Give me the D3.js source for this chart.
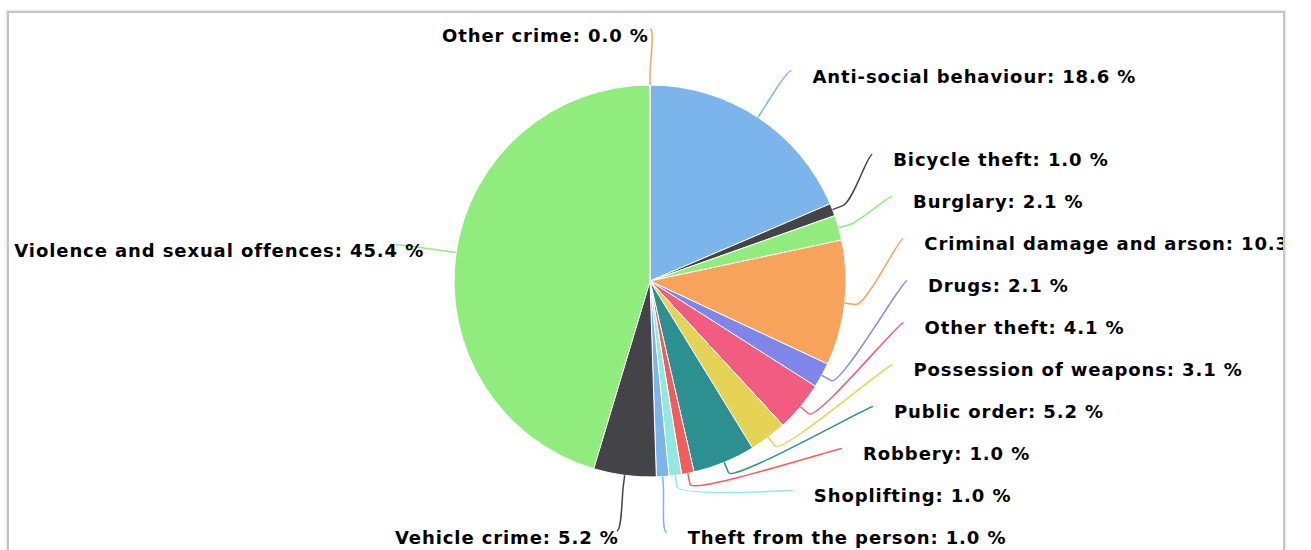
<!DOCTYPE html>
<html>
<head>
<meta charset="utf-8">
<script src="https://cdn.jsdelivr.net/npm/d3@7"></script>
<style>
  body { margin: 0; background: #fff; }
  #frame {
    position: absolute; left: 7px; top: 11px; width: 1274px; height: 620px;
    border: 2px solid #c4c4c4; box-shadow: 0 0 2px 1px #e2e2e2;
    overflow: hidden; background: #fff;
  }
  #chart { position: absolute; left: -9px; top: -13px; }
  .lbl { font-family: "DejaVu Sans", sans-serif; font-weight: bold; font-size: 18px; fill: #000; letter-spacing: 0.9px; }
</style>
</head>
<body>
<div id="frame"><svg id="chart" width="1311" height="620"></svg></div>
<script>
// crime counts per category (shown as share of total)
const categories = [
  'Anti-social behaviour', 'Bicycle theft', 'Burglary', 'Criminal damage and arson',
  'Drugs', 'Other theft', 'Possession of weapons', 'Public order', 'Robbery',
  'Shoplifting', 'Theft from the person', 'Vehicle crime',
  'Violence and sexual offences', 'Other crime'
];
const counts = [18, 1, 2, 10, 2, 4, 3, 5, 1, 1, 1, 5, 44, 0];
const colors = [
  '#7cb5ec', '#434348', '#90ed7d', '#f7a35c', '#8085e9', '#f15c80', '#e4d354',
  '#2b908f', '#f45b5b', '#91e8e1', '#7cb5ec', '#434348', '#90ed7d', '#f7a35c'
];

const svg = d3.select('#chart');
const cx = 650;
const cy = 281;
const radius = 196;
const labelRX = 257; // where connectors end
const labelRY = 252;
const breakOffset = 11;
const gap = 42;

const total = d3.sum(counts);
const data = categories.map((name, i) => ({ name, count: counts[i], color: colors[i] }));

const pie = d3.pie().sort(null).value(d => d.count);
const arcs = pie(data);
const arc = d3.arc().innerRadius(0).outerRadius(radius);

const onCircle = (a, rr) => [cx + rr * Math.sin(a), cy - rr * Math.cos(a)];

arcs.forEach((d) => {
  d.mid = (d.startAngle + d.endAngle) / 2;
  d.right = d.mid < Math.PI;
  d.ny = cy - labelRY * Math.cos(d.mid);
  d.text = `${d.data.name}: ${(d.data.count / total * 100).toFixed(1)} %`;
});

function distribute(items, top, bottom) {
  items.sort((a, b) => a.ny - b.ny);
  items.forEach((d) => { d.y = Math.max(top, Math.min(bottom, d.ny)); });
  for (let i = items.length - 2; i >= 0; i--) items[i].y = Math.min(items[i].y, items[i + 1].y - gap);
  for (let i = 1; i < items.length; i++) items[i].y = Math.max(items[i].y, items[i - 1].y + gap);
}
distribute(arcs.filter(d => d.right), 20, 545);
distribute(arcs.filter(d => !d.right), 20, 545);

arcs.forEach((d) => {
  const t = Math.max(-1, Math.min(1, (d.y - cy) / labelRY));
  d.x = cx + (d.right ? 1 : -1) * labelRX * Math.sqrt(1 - t * t);
});

const g = svg.append('g');

g.selectAll('path.slice')
  .data(arcs)
  .enter().append('path')
  .attr('class', 'slice')
  .attr('transform', `translate(${cx},${cy})`)
  .attr('d', arc)
  .attr('fill', d => d.data.color)
  .attr('stroke', '#fff')
  .attr('stroke-width', 1);

g.selectAll('path.conn')
  .data(arcs)
  .enter().append('path')
  .attr('class', 'conn')
  .attr('fill', 'none')
  .attr('stroke', d => d.data.color)
  .attr('stroke-width', 1.5)
  .attr('d', (d) => {
    const [ex, ey] = onCircle(d.mid, radius);
    const [bx, by] = onCircle(d.mid, radius + breakOffset);
    const s = d.right ? 1 : -1;
    return `M${d.x},${d.y}C${d.x - 5 * s},${d.y} ${2 * bx - ex},${2 * by - ey} ${bx},${by}L${ex},${ey}`;
  });

g.selectAll('text.lbl')
  .data(arcs)
  .enter().append('text')
  .attr('class', 'lbl')
  .attr('text-anchor', d => (d.right ? 'start' : 'end'))
  .attr('x', d => (d.right ? d.x + 21 : d.x - 31 + d.text.length * 1.65))
  .attr('y', d => d.y + (d.right ? 12 : 13))
  .text(d => d.text);
</script>
</body>
</html>
